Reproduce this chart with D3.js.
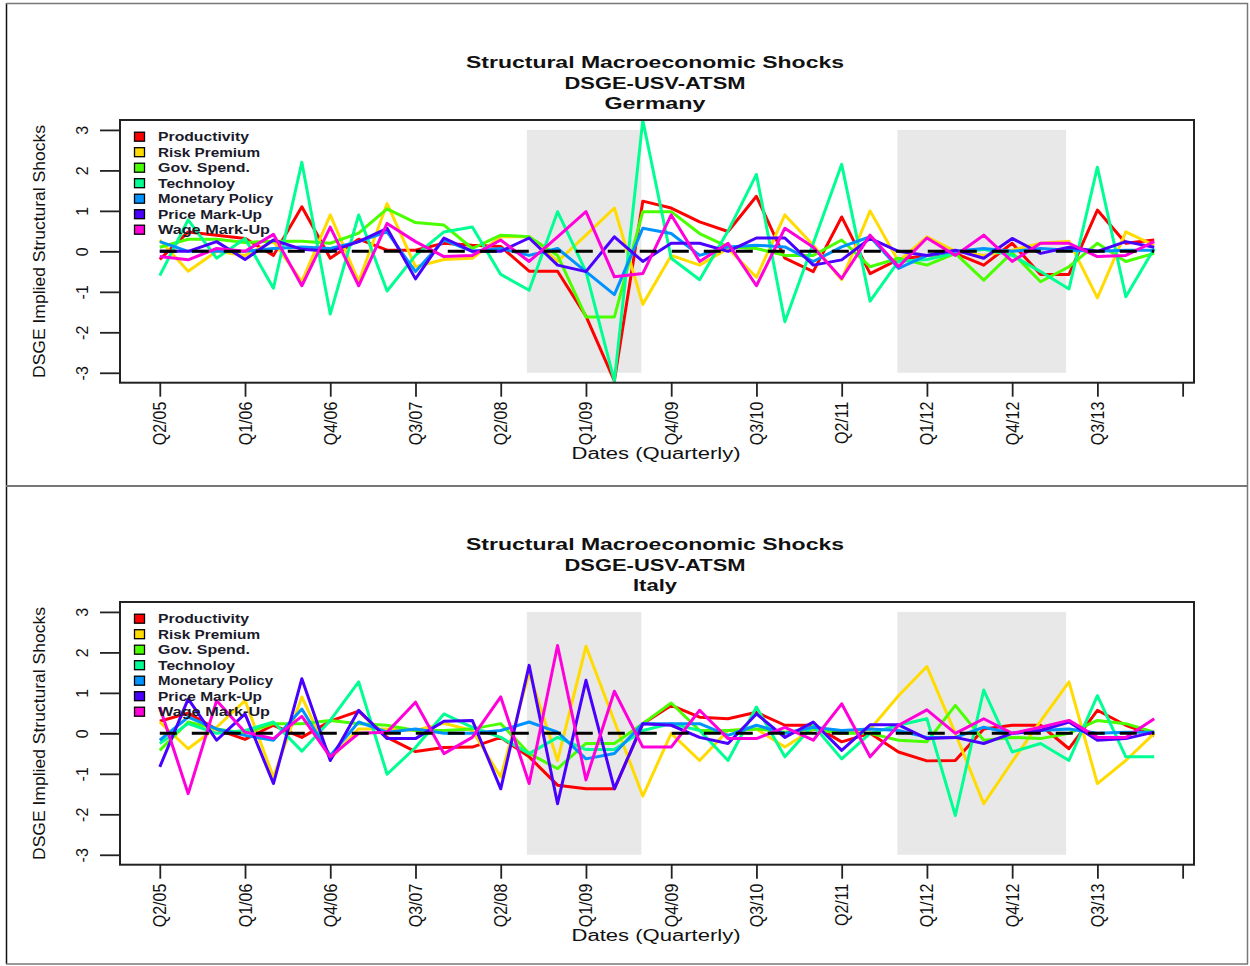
<!DOCTYPE html>
<html>
<head>
<meta charset="utf-8">
<script src="https://cdn.jsdelivr.net/npm/d3@7"></script>
<style>
body { margin: 0; background: #fff; }
text { font-family: Arial, "Liberation Sans", sans-serif; }
</style>
</head>
<body>
<script>
// quarter index 0 = Q2/05 ... 35 = Q1/14
var tickLabels = ["Q2/05", "Q1/06", "Q4/06", "Q3/07", "Q2/08", "Q1/09", "Q4/09", "Q3/10", "Q2/11", "Q1/12", "Q4/12", "Q3/13", ""];
var seriesNames = ["Productivity", "Risk Premium", "Gov. Spend.", "Technoloy", "Monetary Policy", "Price Mark-Up", "Wage Mark-Up"];
var seriesColors = ["#FF0000", "#FFDB00", "#49FF00", "#00FF92", "#0092FF", "#4900FF", "#FF00DB"];
var legendWidths = [91, 102, 92, 77, 115, 104, 112];
var shadedPeriods = [[12.92, 16.95], [25.96, 31.9]];
var countries = ["Germany", "Italy"];

// Germany
var deProductivity = [-0.2, 0.48, 0.4, 0.32, -0.1, 1.1, -0.17, 0.3, 0.03, 0.03, 0.2, 0.15, 0.12, -0.49, -0.49, -1.6, -3.2, 1.24, 1.07, 0.73, 0.49, 1.36, -0.17, -0.5, 0.85, -0.55, -0.2, -0.1, -0.05, -0.34, 0.2, -0.57, -0.57, 1.02, 0.2, 0.28];
var deRiskPremium = [0.28, -0.49, 0, -0.1, 0.25, -0.75, 0.9, -0.75, 1.18, -0.38, -0.2, -0.17, 0.36, 0.36, -0.25, 0.4, 1.07, -1.31, -0.1, -0.34, 0.07, -0.64, 0.9, 0.15, -0.7, 1.0, -0.25, 0.36, 0, -0.1, 0.03, 0.2, 0.25, -1.15, 0.48, 0.15];
var deGovSpend = [0.1, 0.3, 0.3, 0.22, 0.25, 0.25, 0.2, 0.45, 1.05, 0.71, 0.65, 0.07, 0.4, 0.36, -0.1, -1.62, -1.62, 0.98, 0.98, 0.44, 0.11, 0.07, -0.1, -0.1, 0.28, -0.38, -0.17, -0.34, -0.05, -0.71, -0.03, -0.75, -0.38, 0.2, -0.25, -0.05];
var deTechnology = [-0.6, 0.78, -0.17, 0.32, -0.91, 2.2, -1.55, 0.9, -0.98, -0.1, 0.48, 0.6, -0.57, -0.96, 0.98, -0.5, -3.2, 3.24, -0.17, -0.7, 0.5, 1.9, -1.74, 0.2, 2.15, -1.23, -0.25, -0.2, -0.05, 0.05, -0.1, -0.5, -0.93, 2.08, -1.12, 0.07];
var deMonetaryPolicy = [0.24, 0, 0, 0, 0.07, 0.11, 0.07, 0.24, 0.48, -0.5, 0.28, 0, 0.07, -0.1, 0.07, -0.5, -1.07, 0.57, 0.44, -0.1, 0.11, 0.15, 0.11, -0.25, 0.11, 0.36, -0.42, -0.1, 0, 0.07, 0, 0.07, 0.03, 0, 0.03, 0.03];
var dePriceMarkUp = [0, 0, 0.24, -0.2, 0.28, 0.05, 0, 0.24, 0.57, -0.68, 0.33, 0, 0, 0.33, -0.34, -0.5, 0.36, -0.25, 0.2, 0.2, 0, 0.33, 0.33, -0.34, -0.21, 0.32, 0, -0.1, 0.03, -0.17, 0.32, -0.05, 0.1, 0, 0.24, 0.1];
var deWageMarkUp = [-0.13, -0.21, 0.07, 0, 0.42, -0.85, 0.6, -0.85, 0.69, 0.24, -0.13, -0.1, 0.28, -0.25, 0.36, 0.98, -0.63, -0.55, 0.9, -0.25, 0.2, -0.85, 0.57, 0.1, -0.67, 0.4, -0.38, 0.33, -0.1, 0.4, -0.25, 0.2, 0.2, -0.13, -0.1, 0.24];

// Italy
var itProductivity = [0.3, 0.5, 0.1, -0.15, 0.2, -0.1, 0.3, 0.55, -0.1, -0.45, -0.35, -0.34, -0.1, -0.58, -1.28, -1.37, -1.37, 0.24, 0.69, 0.4, 0.36, 0.52, 0.2, 0.2, -0.21, 0, -0.46, -0.68, -0.67, 0.11, 0.2, 0.2, -0.38, 0.57, 0.2, -0.05];
var itRiskPremium = [0.28, -0.38, 0.15, 0.81, -1.08, 0.9, -0.63, 0.11, 0.11, 0.07, 0.25, 0.07, -1.08, 1.5, -0.67, 2.15, 0.3, -1.55, 0, -0.67, 0.07, 0.11, -0.34, 0.11, 0, 0.1, 0.93, 1.65, 0, -1.74, -0.7, 0.3, 1.27, -1.24, -0.67, 0];
var itGovSpend = [-0.42, 0.28, 0.11, 0, 0.24, 0.24, 0.32, 0.24, 0.2, 0.07, 0.07, 0.11, 0.24, -0.5, -0.87, -0.25, -0.25, 0.24, 0.75, 0.07, 0.07, 0.11, 0.03, 0.11, 0, 0, -0.17, -0.21, 0.69, -0.17, -0.1, -0.13, 0, 0.32, 0.24, 0.03];
var itTechnology = [-0.25, 0.24, 0, 0.07, 0.28, -0.44, 0.32, 1.27, -1.01, -0.35, 0.48, 0.15, -0.1, -0.5, -0.1, -0.4, -0.4, 0.07, 0.24, 0.07, -0.67, 0.65, -0.58, 0.2, -0.63, 0, 0.2, 0.36, -2.03, 1.07, -0.46, -0.25, -0.67, 0.93, -0.58, -0.58];
var itMonetaryPolicy = [-0.17, 0.4, 0.11, -0.05, -0.17, 0.6, -0.55, 0.28, 0.03, 0.11, 0, 0, 0.07, 0.28, 0.03, -0.63, -0.5, 0.24, 0.24, 0.24, -0.05, 0.2, 0, 0.15, 0.07, 0.11, 0.07, -0.1, -0.1, 0.15, 0, 0.07, 0.11, 0, 0.03, 0.03];
var itPriceMarkUp = [-0.83, 0.85, -0.17, 0.48, -1.24, 1.35, -0.67, 0.57, -0.13, -0.13, 0.3, 0.32, -1.37, 1.68, -1.74, 1.31, -1.37, 0.24, 0.2, -0.1, -0.25, 0.48, -0.1, 0.28, -0.42, 0.21, 0.21, -0.13, -0.1, -0.25, 0, 0.07, 0.28, -0.17, -0.13, 0.03];
var itWageMarkUp = [0.65, -1.49, 0.81, 0.03, -0.13, 0.42, -0.58, 0, 0.03, 0.77, -0.5, -0.1, 0.9, -1.24, 2.17, -1.15, 1.04, -0.34, -0.34, 0.57, -0.13, -0.13, 0.15, -0.17, 0.73, -0.58, 0.2, 0.58, 0, 0.36, 0, 0.15, 0.32, -0.1, -0.1, 0.36];

var panelSeries = [
    [deProductivity, deRiskPremium, deGovSpend, deTechnology, deMonetaryPolicy, dePriceMarkUp, deWageMarkUp],
    [itProductivity, itRiskPremium, itGovSpend, itTechnology, itMonetaryPolicy, itPriceMarkUp, itWageMarkUp]
];

var width = 1250;
var height = 966;
var panelOffset = 482;

var svg = d3.select("body").append("svg")
    .attr("width", width)
    .attr("height", height);

// outer frames
svg.append("line").attr("x1", 6.5).attr("x2", 6.5).attr("y1", 3).attr("y2", 964).attr("stroke", "#111").attr("stroke-width", 1.5);
svg.append("line").attr("x1", 1247.5).attr("x2", 1247.5).attr("y1", 3).attr("y2", 964).attr("stroke", "#777").attr("stroke-width", 1.5);
svg.append("line").attr("x1", 6).attr("x2", 1248).attr("y1", 3.5).attr("y2", 3.5).attr("stroke", "#777").attr("stroke-width", 1.5);
svg.append("line").attr("x1", 6).attr("x2", 1248).attr("y1", 486).attr("y2", 486).attr("stroke", "#777").attr("stroke-width", 2);
svg.append("line").attr("x1", 6).attr("x2", 1248).attr("y1", 964).attr("y2", 964).attr("stroke", "#777").attr("stroke-width", 1.5);

var xScale = d3.scaleLinear().domain([-1.4, 36.4]).range([120, 1194]);
var yScale = d3.scaleLinear().domain([-3.245, 3.245]).range([382.7, 120]);

var line = d3.line()
    .x((d, i) => xScale(i))
    .y(d => yScale(d));

countries.forEach(function (country, p) {
    var g = svg.append("g").attr("transform", "translate(0," + (p * panelOffset) + ")");

    // shaded periods
    g.selectAll("rect.shade")
        .data(shadedPeriods)
        .enter().append("rect")
        .attr("class", "shade")
        .attr("x", d => xScale(d[0]))
        .attr("width", d => xScale(d[1]) - xScale(d[0]))
        .attr("y", yScale(3))
        .attr("height", yScale(-3) - yScale(3))
        .attr("fill", "#E8E8E8");

    var plot = g.append("g");
    plot.append("clipPath").attr("id", "clip" + p)
        .append("rect").attr("x", 120).attr("y", 120).attr("width", 1074).attr("height", 262.7);

    plot.selectAll("path.series")
        .data(panelSeries[p])
        .enter().append("path")
        .attr("class", "series")
        .attr("clip-path", "url(#clip" + p + ")")
        .attr("fill", "none")
        .attr("stroke", (d, i) => seriesColors[i])
        .attr("stroke-width", 3)
        .attr("stroke-linejoin", "round")
        .attr("d", line);

    // zero line
    g.append("line")
        .attr("x1", xScale(0)).attr("x2", xScale(35))
        .attr("y1", yScale(0)).attr("y2", yScale(0))
        .attr("stroke", "#000")
        .attr("stroke-width", 3)
        .attr("stroke-dasharray", "17,15");

    // legend
    var legend = g.selectAll("g.legend")
        .data(seriesNames)
        .enter().append("g")
        .attr("class", "legend")
        .attr("transform", (d, i) => "translate(134," + (136.7 + i * 15.5) + ")");
    legend.append("rect")
        .attr("x", 0.5).attr("y", -4.5)
        .attr("width", 10).attr("height", 9)
        .attr("fill", (d, i) => seriesColors[i])
        .attr("stroke", "#000")
        .attr("stroke-width", 1.3);
    legend.append("text")
        .attr("x", 24).attr("y", 4.5)
        .attr("font-size", 12.5)
        .attr("font-weight", "bold")
        .attr("fill", "#1a1a2a")
        .attr("textLength", (d, i) => legendWidths[i])
        .attr("lengthAdjust", "spacingAndGlyphs")
        .text(d => d);

    // box
    g.append("rect")
        .attr("x", 120).attr("y", 120)
        .attr("width", 1074).attr("height", 262.7)
        .attr("fill", "none")
        .attr("stroke", "#222")
        .attr("stroke-width", 2);

    // x axis
    var xAxis = d3.axisBottom(xScale)
        .tickValues(d3.range(0, 37, 3))
        .tickFormat((d, i) => tickLabels[i])
        .tickSize(14);
    var gx = g.append("g")
        .attr("transform", "translate(0,382.7)")
        .call(xAxis);
    gx.select(".domain").remove();
    gx.selectAll("line").attr("stroke", "#222").attr("stroke-width", 1.8);
    gx.selectAll("text")
        .attr("x", null).attr("y", null).attr("dy", null)
        .attr("text-anchor", "end")
        .attr("font-size", 16)
        .attr("font-family", "Arial, 'Liberation Sans', sans-serif")
        .attr("fill", "#111")
        .attr("transform", "translate(6,19) scale(1.1,1) rotate(-90)");

    // y axis
    var yAxis = d3.axisLeft(yScale)
        .tickValues([-3, -2, -1, 0, 1, 2, 3])
        .tickFormat(d => String(d))
        .tickSize(20);
    var gy = g.append("g")
        .attr("transform", "translate(120,0)")
        .call(yAxis);
    gy.select(".domain").remove();
    gy.selectAll("line").attr("stroke", "#222").attr("stroke-width", 1.8);
    gy.selectAll("text")
        .attr("x", null).attr("y", null).attr("dy", null)
        .attr("text-anchor", "middle")
        .attr("font-size", 16)
        .attr("font-family", "Arial, 'Liberation Sans', sans-serif")
        .attr("fill", "#111")
        .attr("transform", "translate(-32,0) rotate(-90)");

    // titles
    var titles = ["Structural Macroeconomic Shocks", "DSGE-USV-ATSM", country];
    var titleWidths = [378, 181, country === "Germany" ? 101 : 44];
    var titleY = [68, 89, 109];
    g.selectAll("text.title")
        .data(titles)
        .enter().append("text")
        .attr("class", "title")
        .attr("x", 655)
        .attr("y", (d, i) => titleY[i])
        .attr("text-anchor", "middle")
        .attr("font-size", 16)
        .attr("font-weight", "bold")
        .attr("fill", "#111")
        .attr("textLength", (d, i) => titleWidths[i])
        .attr("lengthAdjust", "spacingAndGlyphs")
        .text(d => d);

    g.append("text")
        .attr("x", 656).attr("y", 459)
        .attr("text-anchor", "middle")
        .attr("font-size", 16)
        .attr("fill", "#111")
        .attr("textLength", 169)
        .attr("lengthAdjust", "spacingAndGlyphs")
        .text("Dates (Quarterly)");

    g.append("text")
        .attr("transform", "translate(45,251.5) rotate(-90)")
        .attr("text-anchor", "middle")
        .attr("font-size", 17)
        .attr("fill", "#111")
        .attr("textLength", 253)
        .attr("lengthAdjust", "spacingAndGlyphs")
        .text("DSGE Implied Structural Shocks");
});
</script>
</body>
</html>
